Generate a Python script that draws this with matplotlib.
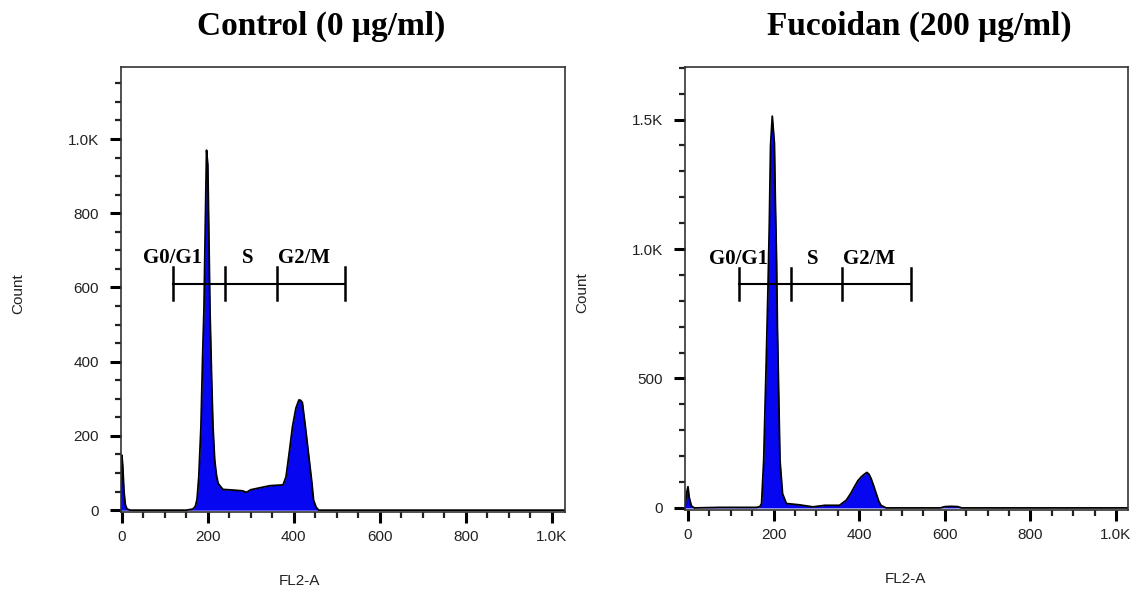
import matplotlib.pyplot as plt
from matplotlib.ticker import FixedLocator, MultipleLocator

# Control (0 ug/ml) histogram outline
ctrl_x = [-2, 0, 2, 5, 8, 12, 20, 150, 165, 171, 175, 179, 184, 188, 191, 194, 197, 200, 203, 205,
          209, 212, 216, 220, 224, 235, 260, 281, 290, 300, 320, 345, 375, 382, 390, 397, 405, 412,
          416, 420, 427, 436, 442, 446, 452, 458, 470, 1031]
ctrl_y = [0, 148, 120, 50, 15, 3, 0, 0, 3, 10, 30, 90, 225, 420, 540, 760, 970, 930, 700, 540,
          350, 225, 135, 95, 72, 56, 54, 52, 48, 55, 60, 66, 68, 90, 160, 225, 275, 297,
          296, 290, 225, 135, 75, 27, 8, 0, 0, 0]

# Fucoidan (200 ug/ml)
fuco_x = [-7, -3, 0, 3, 8, 15, 75, 160, 168, 172, 177, 180, 183, 187, 190, 193, 197, 200, 202, 204,
          207, 209, 212, 215, 221, 230, 260, 292, 320, 354, 370, 380, 389, 397, 405, 412, 418, 423,
          428, 434, 440, 446, 451, 463, 590, 600, 615, 630, 640, 1028]
fuco_y = [0, 60, 82, 40, 8, 0, 2, 2, 5, 17, 184, 380, 571, 850, 1086, 1400, 1513, 1450, 1407, 1200,
          956, 700, 442, 184, 55, 17, 12, 4, 10, 10, 30, 55, 82, 105, 120, 130, 137, 130,
          113, 85, 55, 25, 10, 0, 0, 5, 6, 5, 0, 0]

titles = ["Control (0 \u03bcg/ml)", "Fucoidan (200 \u03bcg/ml)"]
x_ticks = [0, 200, 400, 600, 800, 1000]
x_tick_labels = ["0", "200", "400", "600", "800", "1.0K"]
ctrl_y_ticks = [0, 200, 400, 600, 800, 1000]
ctrl_y_labels = ["0", "200", "400", "600", "800", "1.0K"]
fuco_y_ticks = [0, 500, 1000, 1500]
fuco_y_labels = ["0", "500", "1.0K", "1.5K"]
phases = ["G0/G1", "S", "G2/M"]
gate_edges = [120, 240, 360, 520]
phase_label_x = [118, 292, 424]

fig = plt.figure(figsize=(11.32, 5.96), dpi=100)
ax1 = fig.add_axes([0.1069, 0.1409, 0.3922, 0.7466])
ax2 = fig.add_axes([0.6051, 0.1443, 0.3913, 0.7433])

blue = "#0606f0"
panels = [
    (ax1, ctrl_x, ctrl_y, (-2, 1031), (-5, 1194), ctrl_y_ticks, ctrl_y_labels, 50, 610, 45, 0.403),
    (ax2, fuco_x, fuco_y, (-7, 1028), (-8, 1703), fuco_y_ticks, fuco_y_labels, 100, 865, 63, 0.497),
]

for ax, xs, ys, xl, yl, yt, ytl, yminor, gate_y, gate_h, xlab_pos in panels:
    ax.fill_between(xs, ys, 0, color=blue, lw=0)
    ax.plot(xs, ys, color="black", lw=1.3)
    ax.set_xlim(xl)
    ax.set_ylim(yl)

    ax.xaxis.set_major_locator(FixedLocator(x_ticks))
    ax.set_xticklabels(x_tick_labels)
    ax.xaxis.set_minor_locator(MultipleLocator(50))
    ax.yaxis.set_major_locator(FixedLocator(yt))
    ax.set_yticklabels(ytl)
    ax.yaxis.set_minor_locator(MultipleLocator(yminor))
    ax.tick_params(which="major", length=8, width=2.2, color="black", labelsize=11,
                   labelcolor="#222222", pad=8)
    ax.tick_params(axis="x", which="major", pad=5)
    ax.tick_params(which="minor", length=4, width=1.6, color="#222222")
    for lab in ax.get_xticklabels() + ax.get_yticklabels():
        lab.set_family("Liberation Sans")
    for sp in ax.spines.values():
        sp.set_linewidth(1.2)
        sp.set_color("#333333")

    ax.set_xlabel("FL2-A", fontsize=11, family="Liberation Sans", color="#222222")
    ax.set_ylabel("Count", fontsize=11, family="Liberation Sans", color="#222222")
    ax.xaxis.set_label_coords(xlab_pos, -0.14)
    ax.yaxis.set_label_coords(-0.215, 0.49)

    # gate marker
    ax.plot([gate_edges[0], gate_edges[-1]], [gate_y, gate_y], color="black", lw=1.5)
    for e in gate_edges:
        ax.plot([e, e], [gate_y - gate_h, gate_y + gate_h], color="black", lw=1.8)
    for name, px in zip(phases, phase_label_x):
        ax.text(px, gate_y + gate_h * 1.25, name, ha="center", va="baseline",
                family="Liberation Serif", fontweight="bold", fontsize=15)

fig.text(321 / 1132, 1 - 35 / 596, titles[0], ha="center", va="baseline",
         family="Liberation Serif", fontweight="bold", fontsize=24)
fig.text(919 / 1132, 1 - 35 / 596, titles[1], ha="center", va="baseline",
         family="Liberation Serif", fontweight="bold", fontsize=24)

fig.savefig("out.png", dpi=100)
